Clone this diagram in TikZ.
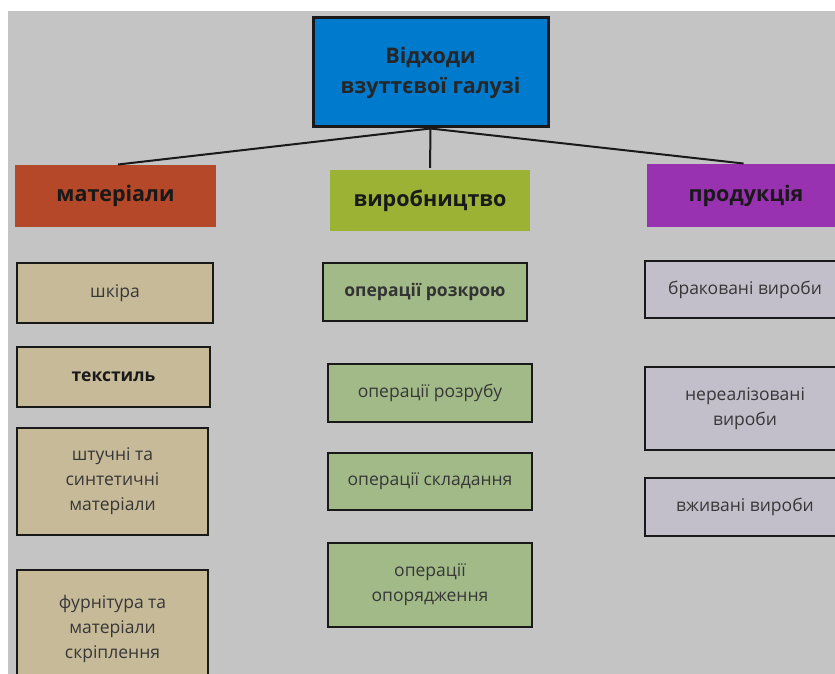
\documentclass[tikz,border=0pt]{standalone}
\usepackage{fontspec}
\setmainfont{Open Sans}
\definecolor{bgc}{RGB}{196,196,196}
\definecolor{topc}{RGB}{0,122,204}
\definecolor{matc}{RGB}{180,72,40}
\definecolor{vyrc}{RGB}{156,178,52}
\definecolor{prodc}{RGB}{152,50,176}
\definecolor{tanc}{RGB}{198,186,152}
\definecolor{grnc}{RGB}{162,186,136}
\definecolor{lavc}{RGB}{194,190,202}
\definecolor{txtc}{RGB}{55,55,55}
\tikzset{
  head/.style={rectangle, inner sep=0pt, font=\fontsize{21.5}{28}\selectfont\bfseries, text=black!90, align=center},
  leaf/.style={rectangle, draw=black!90, line width=2.5pt, inner sep=0pt, align=center,
     font=\fontsize{17.5}{25}\selectfont, text=txtc},
  link/.style={draw=black!90, line width=2pt}
}
\begin{document}
\begin{tikzpicture}[x=1pt,y=-1pt]
\useasboundingbox (0,0) rectangle (835,674);
\clip (0,0) rectangle (835,674);
\fill[white] (0,0) rectangle (835,674);
\fill[bgc] (8,11) rectangle (835,674);
% top
\node[rectangle, draw=black!90, line width=3pt, fill=topc, minimum width=235pt, minimum height=109pt,
  inner sep=0pt, align=center, font=\fontsize{21.5}{30}\selectfont\bfseries, text=black!85] (top) at (430.5,72.5) {Відходи\\взуттєвої галузі};
% headers
\node[head, fill=matc, minimum width=201pt, minimum height=62pt] (mat) at (115.5,196) {матеріали};
\node[head, fill=vyrc, minimum width=200pt, minimum height=61pt] (vyr) at (430,200.5) {виробництво};
\node[head, fill=prodc, minimum width=198pt, minimum height=63pt] (prod) at (746,195.5) {продукція};
\draw[link, shorten >=2.5pt] (top.south) -- (mat.north);
\draw[link, shorten >=2pt] (top.south) -- (vyr.north);
\draw[link, shorten >=2.5pt] (top.south) -- (prod.north);
% materials
\node[leaf, fill=tanc, minimum width=196pt, minimum height=60pt] (shk) at (115,293) {шкіра};
\node[leaf, fill=tanc, minimum width=193pt, minimum height=60pt, font=\fontsize{17.5}{25}\selectfont\bfseries, text=black!90] (tex) at (113.5,377) {текстиль};
\node[leaf, fill=tanc, minimum width=191pt, minimum height=107pt] (sht) at (112.5,481.5) {штучні та\\синтетичні\\матеріали};
\node[leaf, fill=tanc, minimum width=191pt, minimum height=118pt] (fur) at (112.5,629) {фурнітура та\\матеріали\\скріплення};
% production
\node[leaf, fill=grnc, minimum width=204pt, minimum height=58pt, font=\fontsize{17.5}{25}\selectfont\bfseries, text=black!80] (roz) at (425,292) {операції розкрою};
\node[leaf, fill=grnc, minimum width=204pt, minimum height=58pt] (rzb) at (430,393) {операції розрубу};
\node[leaf, fill=grnc, minimum width=204pt, minimum height=57pt] (skl) at (430,481.5) {операції складання};
\node[leaf, fill=grnc, minimum width=204pt, minimum height=84pt] (opo) at (430,585) {операції\\опорядження};
% products
\node[leaf, fill=lavc, minimum width=200pt, minimum height=57pt] (brak) at (745,289.5) {браковані вироби};
\node[leaf, fill=lavc, minimum width=200pt, minimum height=83pt] (nere) at (745,408.5) {нереалізовані\\вироби};
\node[leaf, fill=lavc, minimum width=200pt, minimum height=58pt] (vzh) at (745,507) {вживані вироби};
\end{tikzpicture}
\end{document}
